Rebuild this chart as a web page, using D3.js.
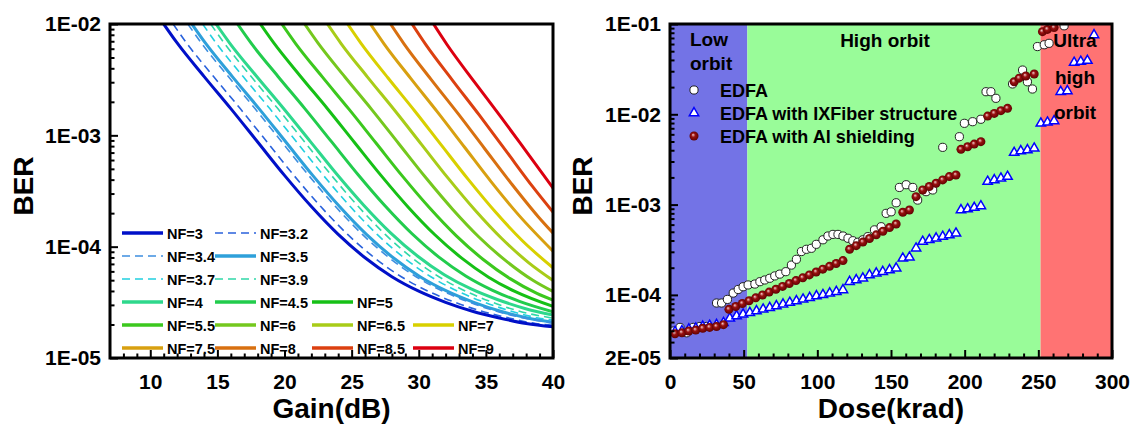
<!DOCTYPE html>
<html><head><meta charset="utf-8">
<script src="https://cdn.jsdelivr.net/npm/d3@7"></script>
<style>
body{margin:0;background:#fff;}
svg text{font-family:"Liberation Sans",Arial,sans-serif;font-weight:bold;fill:#000;}
</style></head><body>
<svg id="chart" width="1134" height="424"></svg>
<script>
// ---------------- LEFT PANEL DATA (gain in dB, log10 BER) ----------------
const nfLabels = ["NF=3","NF=3.2","NF=3.4","NF=3.5","NF=3.7","NF=3.9","NF=4","NF=4.5","NF=5","NF=5.5","NF=6","NF=6.5","NF=7","NF=7.5","NF=8","NF=8.5","NF=9"];
const nfColors = ["#0010c8","#2a62dc","#3e8fe0","#2ea0da","#22d0e0","#30d8a8","#2ed88c","#22cc4c","#16c016","#3cc81e","#74c81e","#a8cc18","#d8d000","#d8a010","#d87010","#dc4010","#dc0010"];
const nfDashed = [false,true,true,false,true,true,false,false,false,false,false,false,false,false,false,false,false];

const gain_NF3   = [11,12,14,16,18,20,22,24,26,28,30,32,34,36,38,40];
const lgBER_NF3  = [-2.00,-2.17,-2.47,-2.76,-3.06,-3.36,-3.64,-3.89,-4.10,-4.27,-4.40,-4.50,-4.58,-4.64,-4.69,-4.72];
const gain_NF3_2 = [11.7,12.7,14.7,16.7,18.7,20.7,22.7,24.7,26.7,28.7,30.7,32.7,34.7,36.7,38.7,40];
const lgBER_NF3_2= [-2.00,-2.17,-2.47,-2.76,-3.06,-3.36,-3.64,-3.89,-4.10,-4.27,-4.40,-4.50,-4.58,-4.64,-4.69,-4.705];
const gain_NF3_4 = [12.8,13.8,15.8,17.8,19.8,21.8,23.8,25.8,27.8,29.8,31.8,33.8,35.8,37.8,40];
const lgBER_NF3_4= [-2.00,-2.17,-2.47,-2.76,-3.06,-3.36,-3.64,-3.89,-4.10,-4.27,-4.40,-4.50,-4.58,-4.64,-4.687];
const gain_NF3_5 = [13.1,14.1,16.1,18.1,20.1,22.1,24.1,26.1,28.1,30.1,32.1,34.1,36.1,38.1,40];
const lgBER_NF3_5= [-2.00,-2.17,-2.47,-2.76,-3.06,-3.36,-3.64,-3.89,-4.10,-4.27,-4.40,-4.50,-4.58,-4.64,-4.678];
const gain_NF3_7 = [13.9,14.9,16.9,18.9,20.9,22.9,24.9,26.9,28.9,30.9,32.9,34.9,36.9,38.9,40];
const lgBER_NF3_7= [-2.00,-2.17,-2.47,-2.76,-3.06,-3.36,-3.64,-3.89,-4.10,-4.27,-4.40,-4.50,-4.58,-4.64,-4.66];
const gain_NF3_9 = [14.5,15.5,17.5,19.5,21.5,23.5,25.5,27.5,29.5,31.5,33.5,35.5,37.5,40];
const lgBER_NF3_9= [-2.00,-2.17,-2.47,-2.76,-3.06,-3.36,-3.64,-3.89,-4.10,-4.27,-4.40,-4.50,-4.58,-4.642];
const gain_NF4   = [14.9,15.9,17.9,19.9,21.9,23.9,25.9,27.9,29.9,31.9,33.9,35.9,37.9,40];
const lgBER_NF4  = [-2.00,-2.169,-2.467,-2.755,-3.052,-3.35,-3.628,-3.876,-4.084,-4.252,-4.38,-4.477,-4.555,-4.615];
const gain_NF4_5 = [16.5,17.5,19.5,21.5,23.5,25.5,27.5,29.5,31.5,33.5,35.5,37.5,40];
const lgBER_NF4_5= [-2.00,-2.17,-2.469,-2.758,-3.057,-3.356,-3.635,-3.884,-4.094,-4.263,-4.392,-4.491,-4.585];
const gain_NF5   = [18.2,19.2,21.2,23.2,25.2,27.2,29.2,31.2,33.2,35.2,37.2,40];
const lgBER_NF5  = [-2.00,-2.17,-2.471,-2.761,-3.062,-3.362,-3.643,-3.893,-4.103,-4.274,-4.404,-4.537];
const gain_NF5_5 = [19.8,20.8,22.8,24.8,26.8,28.8,30.8,32.8,34.8,36.8,38.8,40];
const lgBER_NF5_5= [-2.00,-2.171,-2.473,-2.765,-3.067,-3.369,-3.651,-3.903,-4.115,-4.287,-4.419,-4.48];
const gain_NF6   = [21.5,22.5,24.5,26.5,28.5,30.5,32.5,34.5,36.5,38.5,40];
const lgBER_NF6  = [-2.00,-2.172,-2.476,-2.769,-3.073,-3.377,-3.661,-3.915,-4.128,-4.302,-4.403];
const gain_NF6_5 = [23.2,24.2,26.2,28.2,30.2,32.2,34.2,36.2,38.2,40];
const lgBER_NF6_5= [-2.00,-2.173,-2.479,-2.775,-3.081,-3.387,-3.673,-3.929,-4.145,-4.303];
const gain_NF7   = [24.7,25.7,27.7,29.7,31.7,33.7,35.7,37.7,40];
const lgBER_NF7  = [-2.00,-2.174,-2.483,-2.781,-3.09,-3.398,-3.687,-3.945,-4.19];
const gain_NF7_5 = [26.4,27.4,29.4,31.4,33.4,35.4,37.4,40];
const lgBER_NF7_5= [-2.00,-2.176,-2.489,-2.792,-3.105,-3.418,-3.71,-4.04];
const gain_NF8   = [27.9,28.9,30.9,32.9,34.9,36.9,38.9,40];
const lgBER_NF8  = [-2.00,-2.178,-2.495,-2.801,-3.118,-3.434,-3.731,-3.878];
const gain_NF8_5 = [29.5,30.5,32.5,34.5,36.5,38.5,40];
const lgBER_NF8_5= [-2.00,-2.181,-2.504,-2.817,-3.14,-3.463,-3.689];
const gain_NF9   = [31.1,32.1,34.1,36.1,38.1,40];
const lgBER_NF9  = [-2.00,-2.184,-2.513,-2.832,-3.16,-3.473];

const gainTicks = [10,15,20,25,30,35,40];
const berTicksLeft = [1e-5,1e-4,1e-3,1e-2];
const berTickLabelsLeft = ["1E-05","1E-04","1E-03","1E-02"];

// ---------------- RIGHT PANEL DATA (dose in krad, log10 BER) ----------------
const doseEDFA = [2.3,6.8,11.3,15.8,20.3,24.8,31.6,35.0,39.0,42.9,46.3,49.6,53.0,57.6,61.0,64.3,67.7,71.1,74.5,78.6,82.4,85.8,89.2,92.6,96.0,99.3,103.8,107.2,110.6,114.0,117.4,120.8,124.1,127.5,130.9,134.3,138.8,143.3,146.7,150.1,153.5,155.7,160.3,164.8,168.1,173.8,178.3,185.1,196.4,199.8,205.4,211.0,214.5,217.8,221.2,232.5,239.3,242.6,246.0,249.4,254.0,257.3,267.5];
const lgEDFA   = [-4.40,-4.36,-4.42,-4.36,-4.35,-4.35,-4.09,-4.09,-4.05,-3.98,-3.94,-3.91,-3.89,-3.88,-3.854,-3.835,-3.816,-3.79,-3.77,-3.743,-3.67,-3.606,-3.52,-3.495,-3.484,-3.44,-3.39,-3.348,-3.33,-3.33,-3.348,-3.373,-3.40,-3.417,-3.39,-3.355,-3.28,-3.245,-3.097,-3.08,-2.98,-2.81,-2.78,-2.81,-2.95,-2.857,-2.838,-2.366,-2.248,-2.10,-2.082,-2.055,-1.75,-1.75,-1.823,-1.664,-1.51,-1.64,-1.72,-1.25,-1.23,-1.214,-1.02];

const doseIX = [3.4,8.1,12.8,17.5,22.2,26.9,31.6,36.3,40.6,45.2,49.6,54.2,58.7,63.2,67.7,72.2,76.7,81.3,85.8,90.3,94.8,99.4,103.8,108.4,112.9,117.4,121.9,126.4,130.9,135.4,140.0,144.4,149.0,153.5,158.0,162.5,167.0,171.5,176.0,180.6,185.1,189.6,194.1,197.5,202.0,206.5,211.0,215.6,220.1,224.6,229.1,233.6,238.1,242.6,247.2,251.7,256.2,260.7,265.2,269.7,274.3,278.8,283.3,287.8];
const lgIX   = [-4.41,-4.40,-4.38,-4.37,-4.35,-4.34,-4.33,-4.31,-4.26,-4.234,-4.215,-4.197,-4.178,-4.16,-4.142,-4.123,-4.104,-4.086,-4.068,-4.049,-4.031,-4.012,-4.00,-3.982,-3.965,-3.946,-3.854,-3.835,-3.816,-3.78,-3.76,-3.743,-3.724,-3.705,-3.595,-3.584,-3.484,-3.41,-3.39,-3.373,-3.355,-3.337,-3.318,-3.06,-3.05,-3.034,-3.016,-2.746,-2.728,-2.709,-2.69,-2.425,-2.406,-2.395,-2.377,-2.10,-2.089,-2.074,-1.75,-1.742,-1.428,-1.417,-1.406,-1.122];

const doseAl = [3.4,8.1,12.8,17.5,22.2,26.9,31.6,36.3,40.0,44.6,49.1,53.7,58.2,62.8,67.3,71.9,76.4,81.0,85.5,90.1,94.6,99.2,103.7,108.3,112.8,117.4,121.9,126.4,130.9,135.4,140.0,144.5,149.0,153.5,158.0,162.5,167.0,171.5,176.0,180.6,185.1,189.6,194.1,197.5,202.0,206.5,211.0,215.6,220.1,224.6,229.1,233.6,237.0,241.5,247.2,252.8,256.2,260.7];
const lgAl   = [-4.43,-4.42,-4.40,-4.39,-4.37,-4.36,-4.35,-4.33,-4.16,-4.128,-4.096,-4.065,-4.033,-4.001,-3.969,-3.938,-3.906,-3.874,-3.842,-3.811,-3.779,-3.747,-3.715,-3.684,-3.652,-3.62,-3.495,-3.455,-3.415,-3.375,-3.335,-3.295,-3.255,-3.215,-3.085,-3.06,-2.912,-2.838,-2.80,-2.764,-2.727,-2.69,-2.672,-2.388,-2.36,-2.33,-2.303,-2.02,-1.99,-1.96,-1.934,-1.64,-1.60,-1.576,-1.554,-1.085,-1.06,-1.04];

const seriesNames = ["EDFA","EDFA with IXFiber structure","EDFA with Al shielding"];
const regionStart = [0,52.5,251.5];
const regionEnd   = [52.5,251.5,300];
const regionColors = ["#7373e6","#99fc99","#ff7373"];
const doseTicks = [0,50,100,150,200,250,300];
const berTicksRight = [2e-5,1e-4,1e-3,1e-2,1e-1];
const berTickLabelsRight = ["2E-05","1E-04","1E-03","1E-02","1E-01"];

// ---------------- DRAWING ----------------
const svg = d3.select("#chart");
const defs = svg.append("defs");
const grad = defs.append("radialGradient").attr("id","sphere").attr("cx","50%").attr("cy","50%").attr("r","55%").attr("fx","38%").attr("fy","35%");
grad.append("stop").attr("offset","0%").attr("stop-color","#f4d0d0");
grad.append("stop").attr("offset","40%").attr("stop-color","#9a1010");
grad.append("stop").attr("offset","100%").attr("stop-color","#560000");

function styleAxis(g, fs){
  g.select(".domain").remove();
  g.attr("font-family",null).attr("font-size",null);
  g.selectAll(".tick line").attr("stroke","#000").attr("stroke-width",2);
  g.selectAll(".tick text").style("font-size",fs+"px");
}
function minorLog(lo, hi){
  const out=[];
  for(let k=-6;k<=0;k++){ for(let m=2;m<=9;m++){ const v=m*Math.pow(10,k); if(v>lo*1.0001 && v<hi*0.9999) out.push(v);} }
  return out;
}

// ===== Left panel =====
const L = {x0:110,x1:553,y0:24,y1:358};
const xL = d3.scaleLinear().domain([7,40]).range([L.x0,L.x1]);
const yL = d3.scaleLog().domain([1e-5,1e-2]).range([L.y1,L.y0]);
defs.append("clipPath").attr("id","clipL").append("rect").attr("x",L.x0).attr("y",L.y0).attr("width",L.x1-L.x0).attr("height",L.y1-L.y0);

const gainArrays = [gain_NF3,gain_NF3_2,gain_NF3_4,gain_NF3_5,gain_NF3_7,gain_NF3_9,gain_NF4,gain_NF4_5,gain_NF5,gain_NF5_5,gain_NF6,gain_NF6_5,gain_NF7,gain_NF7_5,gain_NF8,gain_NF8_5,gain_NF9];
const berArrays  = [lgBER_NF3,lgBER_NF3_2,lgBER_NF3_4,lgBER_NF3_5,lgBER_NF3_7,lgBER_NF3_9,lgBER_NF4,lgBER_NF4_5,lgBER_NF5,lgBER_NF5_5,lgBER_NF6,lgBER_NF6_5,lgBER_NF7,lgBER_NF7_5,lgBER_NF8,lgBER_NF8_5,lgBER_NF9];
const curves = nfLabels.map((name,i)=>({name, color:nfColors[i], dashed:nfDashed[i],
  pts: gainArrays[i].map((g,j)=>[g, Math.pow(10, berArrays[i][j])])}));

const lineL = d3.line().x(d=>xL(d[0])).y(d=>yL(d[1])).curve(d3.curveMonotoneX);
const gLeft = svg.append("g");
gLeft.append("g").attr("clip-path","url(#clipL)").selectAll("path").data(curves.slice().reverse()).join("path")
  .attr("d",d=>lineL(d.pts)).attr("fill","none").attr("stroke",d=>d.color)
  .attr("stroke-width",d=>d.dashed?1.6:3).attr("stroke-dasharray",d=>d.dashed?"8,5":null);

// axes left
const minorGain = d3.range(8,40).filter(v=>v%5!==0);
gLeft.append("g").attr("transform",`translate(0,${L.y1})`).call(d3.axisBottom(xL).tickValues(minorGain).tickSizeInner(-4.5).tickSizeOuter(0).tickFormat("")).call(g=>styleAxis(g,21));
gLeft.append("g").attr("transform",`translate(0,${L.y1})`).call(d3.axisBottom(xL).tickValues(gainTicks).tickSizeInner(-8).tickSizeOuter(0).tickPadding(16).tickFormat(d3.format("d"))).call(g=>styleAxis(g,21));
gLeft.append("g").attr("transform",`translate(${L.x0},0)`).call(d3.axisLeft(yL).tickValues(minorLog(1e-5,1e-2)).tickSizeInner(-4.5).tickSizeOuter(0).tickFormat("")).call(g=>styleAxis(g,21));
gLeft.append("g").attr("transform",`translate(${L.x0},0)`).call(d3.axisLeft(yL).tickValues(berTicksLeft).tickSizeInner(-8).tickSizeOuter(0).tickPadding(9).tickFormat((d,i)=>berTickLabelsLeft[i])).call(g=>styleAxis(g,21));
gLeft.append("rect").attr("x",L.x0).attr("y",L.y0).attr("width",L.x1-L.x0).attr("height",L.y1-L.y0).attr("fill","none").attr("stroke","#000").attr("stroke-width",3);
gLeft.append("text").attr("transform",`translate(33,186) rotate(-90)`).attr("text-anchor","middle").style("font-size","28px").text("BER");
gLeft.append("text").attr("x",(L.x0+L.x1)/2).attr("y",418).attr("text-anchor","middle").style("font-size","28px").text("Gain(dB)");

// legend left
const legRows = [0,0,1,1,2,2,3,3,3,4,4,4,4,5,5,5,5];
const legCols = [0,1,0,1,0,1,0,1,2,0,1,2,3,0,1,2,3];
const colX = [122,215,312,413];
const rowY = [233,256,279,302,325,348];
const leg = gLeft.append("g");
curves.forEach((c,i)=>{
  const x = colX[legCols[i]], y = rowY[legRows[i]];
  leg.append("line").attr("x1",x).attr("x2",x+41).attr("y1",y).attr("y2",y).attr("stroke",c.color)
     .attr("stroke-width",c.dashed?1.6:3.5).attr("stroke-dasharray",c.dashed?"8,5":null);
  leg.append("text").attr("x",x+45).attr("y",y+5.5).style("font-size","14.5px").text(c.name);
});

// ===== Right panel =====
const R = {x0:670,x1:1112,y0:24,y1:358};
const xR = d3.scaleLinear().domain([0,300]).range([R.x0,R.x1]);
const yR = d3.scaleLog().domain([2e-5,1e-1]).range([R.y1,R.y0]);
defs.append("clipPath").attr("id","clipR").append("rect").attr("x",R.x0).attr("y",R.y0).attr("width",R.x1-R.x0).attr("height",R.y1-R.y0);
const gRight = svg.append("g");
gRight.append("g").selectAll("rect").data(regionStart.map((s,i)=>({s,e:regionEnd[i],c:regionColors[i]}))).join("rect")
  .attr("x",d=>xR(d.s)).attr("width",d=>xR(d.e)-xR(d.s)).attr("y",R.y0).attr("height",R.y1-R.y0).attr("fill",d=>d.c);

const ptsEDFA = doseEDFA.map((d,i)=>[d,Math.pow(10,lgEDFA[i])]);
const ptsIX = doseIX.map((d,i)=>[d,Math.pow(10,lgIX[i])]);
const ptsAl = doseAl.map((d,i)=>[d,Math.pow(10,lgAl[i])]);
const marks = gRight.append("g").attr("clip-path","url(#clipR)");
const tri = d3.symbol(d3.symbolTriangle, 38);
marks.append("g").selectAll("circle").data(ptsEDFA).join("circle").attr("cx",d=>xR(d[0])).attr("cy",d=>yR(d[1])).attr("r",4.1).attr("fill","#fff").attr("stroke","#222").attr("stroke-width",1);
marks.append("g").selectAll("path").data(ptsIX).join("path").attr("d",tri).attr("transform",d=>`translate(${xR(d[0])},${yR(d[1])})`).attr("fill","#fff").attr("stroke","#0000ff").attr("stroke-width",1.5);
marks.append("g").selectAll("circle").data(ptsAl).join("circle").attr("cx",d=>xR(d[0])).attr("cy",d=>yR(d[1])).attr("r",4.5).attr("fill","url(#sphere)");

// axes right
const minorDose = d3.range(10,300,10).filter(v=>v%50!==0);
gRight.append("g").attr("transform",`translate(0,${R.y1})`).call(d3.axisBottom(xR).tickValues(minorDose).tickSizeInner(-4.5).tickSizeOuter(0).tickFormat("")).call(g=>styleAxis(g,21));
gRight.append("g").attr("transform",`translate(0,${R.y1})`).call(d3.axisBottom(xR).tickValues(doseTicks).tickSizeInner(-8).tickSizeOuter(0).tickPadding(16).tickFormat(d3.format("d"))).call(g=>styleAxis(g,21));
gRight.append("g").attr("transform",`translate(${R.x0},0)`).call(d3.axisLeft(yR).tickValues(minorLog(2e-5,1e-1)).tickSizeInner(-4.5).tickSizeOuter(0).tickFormat("")).call(g=>styleAxis(g,21));
gRight.append("g").attr("transform",`translate(${R.x0},0)`).call(d3.axisLeft(yR).tickValues(berTicksRight).tickSizeInner(-8).tickSizeOuter(0).tickPadding(9).tickFormat((d,i)=>berTickLabelsRight[i])).call(g=>styleAxis(g,21));
gRight.append("rect").attr("x",R.x0).attr("y",R.y0).attr("width",R.x1-R.x0).attr("height",R.y1-R.y0).attr("fill","none").attr("stroke","#000").attr("stroke-width",3);
gRight.append("text").attr("transform",`translate(592,186) rotate(-90)`).attr("text-anchor","middle").style("font-size","28px").text("BER");
gRight.append("text").attr("x",(R.x0+R.x1)/2).attr("y",418).attr("text-anchor","middle").style("font-size","28px").text("Dose(krad)");

// region labels
const rl = gRight.append("g").style("font-size","19px");
rl.append("text").attr("x",690).attr("y",46).text("Low");
rl.append("text").attr("x",690).attr("y",70).text("orbit");
rl.append("text").attr("x",885).attr("y",47).attr("text-anchor","middle").text("High orbit");
rl.append("text").attr("x",1075).attr("y",47).attr("text-anchor","middle").text("Ultra");
rl.append("text").attr("x",1075).attr("y",84).attr("text-anchor","middle").text("high");
rl.append("text").attr("x",1075).attr("y",119).attr("text-anchor","middle").text("orbit");

// legend right
const lg = gRight.append("g");
const legY = [90,113,136];
lg.append("circle").attr("cx",694).attr("cy",legY[0]).attr("r",4.1).attr("fill","#fff").attr("stroke","#222");
lg.append("path").attr("d",tri).attr("transform",`translate(694,${legY[1]})`).attr("fill","#fff").attr("stroke","#0000ff").attr("stroke-width",1.5);
lg.append("circle").attr("cx",694).attr("cy",legY[2]).attr("r",4.5).attr("fill","url(#sphere)");
seriesNames.forEach((n,i)=>lg.append("text").attr("x",720).attr("y",legY[i]+6.5).style("font-size","18px").text(n));
</script></body></html>
